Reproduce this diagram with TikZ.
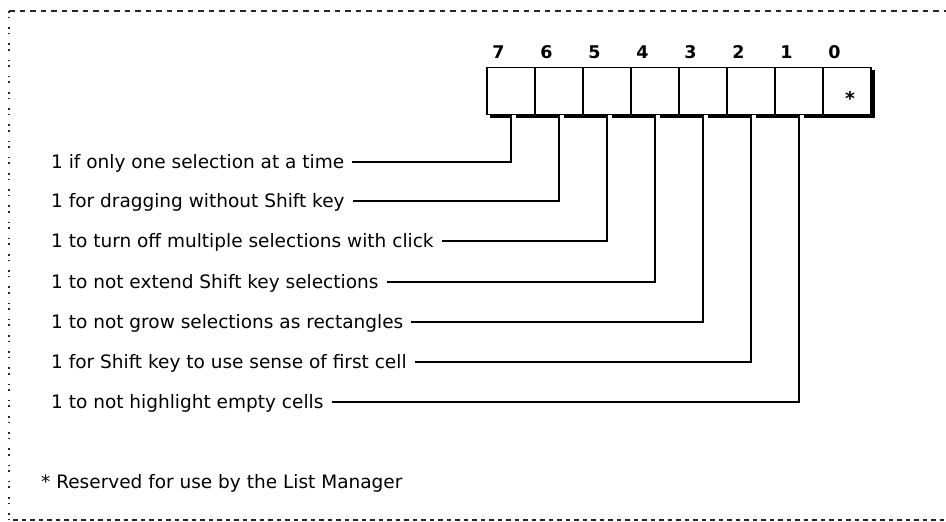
\documentclass[tikz,border=0pt]{standalone}
\usepackage{fontspec}
\setmainfont{DejaVu Sans}
\begin{document}
\begin{tikzpicture}[x=1pt,y=-1pt,
  cell/.style={draw=black,line width=1.4pt,fill=white,minimum width=48pt,minimum height=47pt,inner sep=0pt,outer sep=0pt,anchor=north west},
  bitnum/.style={font=\bfseries\fontsize{17.5}{20}\selectfont,inner sep=0pt,anchor=base},
  lab/.style={font=\fontsize{18.5}{21}\selectfont,inner sep=0pt,anchor=west,text height=13.5pt,text depth=0pt},
  conn/.style={line width=1.4pt},
  framedash/.style={line width=1.6pt,black!85}]
\useasboundingbox (0,0) rectangle (946,522);
% frame
\draw[framedash, dash pattern=on 5.5pt off 5pt] (9,11) -- (946,11);
\draw[framedash, dash pattern=on 1.6pt off 4pt on 1.6pt off 9pt] (9,11) -- (9,520);
\draw[framedash, dash pattern=on 4.5pt off 4pt] (13,520) -- (946,520);
% shadow of the register box
\fill[black] (490,70) rectangle (874.5,118);
% cells
\foreach \b [evaluate=\b as \xl using {487+48*(7-\b)}] in {7,6,5,4,3,2,1,0}{
  \node[cell] (c\b) at (\xl,67.5) {};
  \node[bitnum] (n\b) at (\xl+11.5,58.3) {\b};
}
\node[font=\bfseries\fontsize{19}{20}\selectfont,inner sep=0pt,anchor=base] (star) at (850,105) {*};
% gaps in the shadow beside each connector
\foreach \b in {7,6,5,4,3,2,1}{
  \fill[white] ([xshift=1pt,yshift=-0.8pt]c\b.south) rectangle ([xshift=4.5pt,yshift=-4.5pt]c\b.south);
}
% labels
\node[lab] (l7) at (51,162) {1 if only one selection at a time};
\node[lab] (l6) at (51,201) {1 for dragging without Shift key};
\node[lab] (l5) at (51,241) {1 to turn off multiple selections with click};
\node[lab] (l4) at (51,282) {1 to not extend Shift key selections};
\node[lab] (l3) at (51,322) {1 to not grow selections as rectangles};
\node[lab] (l2) at (51,362) {1 for Shift key to use sense of first cell};
\node[lab] (l1) at (51,402) {1 to not highlight empty cells};
\node[lab] (note) at (41,482) {* Reserved for use by the List Manager};
% connectors
\foreach \b in {7,6,5,4,3,2,1}{
  \draw[conn] ([xshift=8pt]l\b.east) -| (c\b.south);
}
\end{tikzpicture}
\end{document}
